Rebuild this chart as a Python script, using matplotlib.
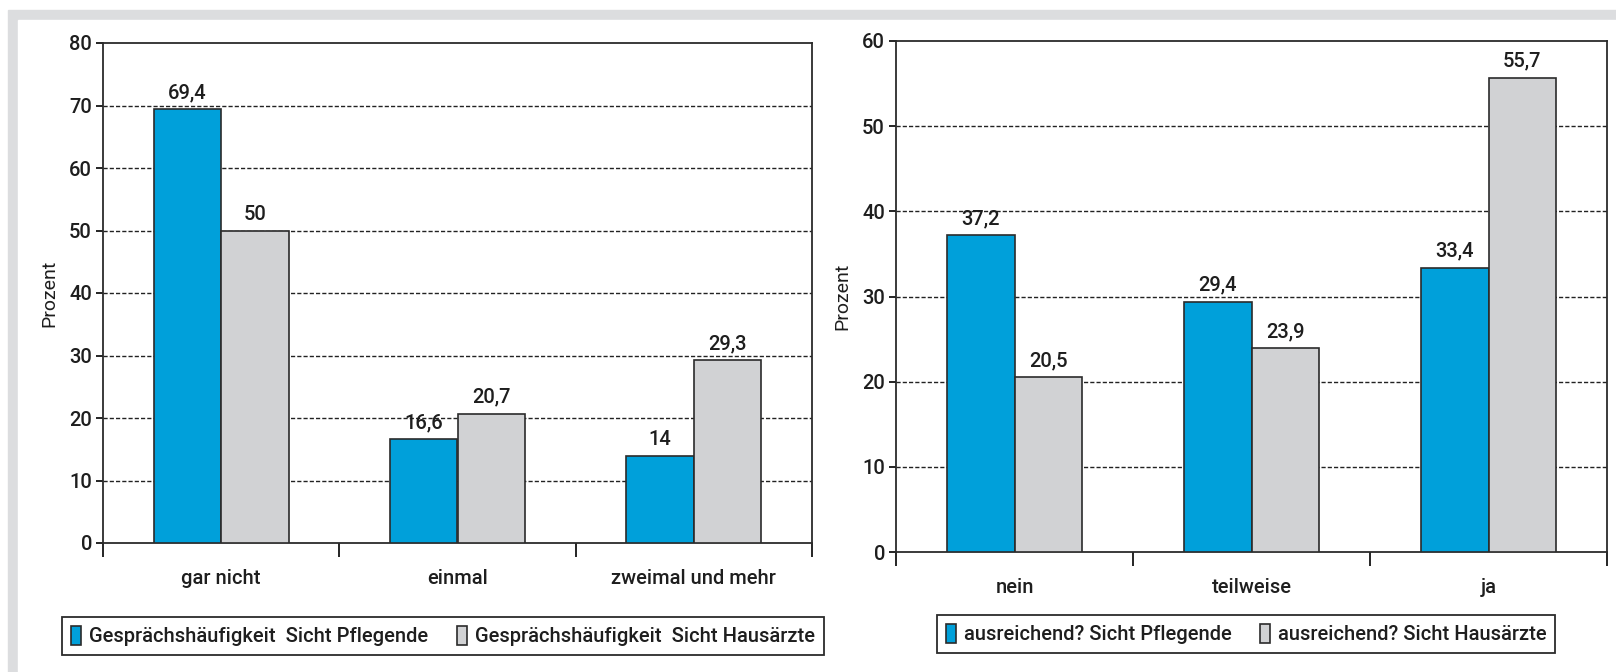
import numpy as np
import matplotlib.pyplot as plt
from matplotlib.patches import Rectangle

plt.rcParams['font.family'] = ['Roboto', 'DejaVu Sans']
plt.rcParams['font.weight'] = 'medium'

# left chart
cats_left = ["gar nicht", "einmal", "zweimal und mehr"]
pflege_left = [69.4, 16.6, 14]
arzt_left = [50, 20.7, 29.3]
labels_left = ["Gesprächshäufigkeit  Sicht Pflegende", "Gesprächshäufigkeit  Sicht Hausärzte"]

# right chart
cats_right = ["nein", "teilweise", "ja"]
pflege_right = [37.2, 29.4, 33.4]
arzt_right = [20.5, 23.9, 55.7]
labels_right = ["ausreichend? Sicht Pflegende", "ausreichend? Sicht Hausärzte"]

BLUE = "#00a0da"
GRAY = "#d1d2d4"
EDGE = "#2b2b2b"
TXT = "#1e1e1e"
W, H = 1616, 672
FS = 14.5


def fmt(v):
    s = f"{v:g}"
    return s.replace(".", ",")


def draw(ax, cats, a, b, ymax, labels, legend_center):
    x = np.arange(len(cats))
    w = 0.285
    bars_a = ax.bar(x - w / 2, a, w, color=BLUE, edgecolor=EDGE, linewidth=1.2,
                    label=labels[0], zorder=3)
    bars_b = ax.bar(x + w / 2, b, w, color=GRAY, edgecolor=EDGE, linewidth=1.2,
                    label=labels[1], zorder=3)
    for bars, vals in ((bars_a, a), (bars_b, b)):
        for r, v in zip(bars, vals):
            ax.annotate(fmt(v), (r.get_x() + r.get_width() / 2, v),
                        xytext=(0, 5), textcoords="offset points",
                        ha="center", va="bottom", fontsize=FS, color=TXT)
    ax.set_xlim(-0.5, len(cats) - 0.5)
    ax.set_ylim(0, ymax)
    ax.set_yticks(np.arange(0, ymax + 1, 10))
    for yv in np.arange(10, ymax, 10):
        ax.axhline(yv, color="#222", lw=1.0, ls=(0, (3, 1.5)), zorder=1)
    ax.set_xticks(x)
    ax.set_xticklabels(cats, fontsize=FS, color=TXT)
    ax.set_xticks(np.arange(-0.5, len(cats), 1), minor=True)
    ax.tick_params(axis="x", which="major", length=0, pad=19)
    ax.tick_params(axis="x", which="minor", length=10, width=1.2, direction="out")
    ax.tick_params(axis="y", length=5, width=1.2, labelsize=FS, pad=3, labelcolor=TXT)
    ax.set_ylabel("Prozent", fontsize=14, labelpad=8, color=TXT)
    for s in ax.spines.values():
        s.set_linewidth(1.3)
        s.set_color(EDGE)
    leg = ax.legend(loc="center", bbox_to_anchor=(legend_center[0] / W, 1 - legend_center[1] / H),
                    bbox_transform=ax.figure.transFigure, ncol=2, fontsize=FS,
                    handlelength=0.5, handleheight=1.1, handletextpad=0.4,
                    columnspacing=1.4, fancybox=False, framealpha=1,
                    borderpad=0.45, edgecolor=EDGE)
    leg.get_frame().set_linewidth(1.3)
    for t in leg.get_texts():
        t.set_color(TXT)


fig = plt.figure(figsize=(W / 100, H / 100), dpi=100)
# light gray frame around the figure
fig.patches.append(Rectangle((8 / W, 0), 1, 1 - 10 / H, transform=fig.transFigure,
                             color="#dcdddf", zorder=-10))
fig.patches.append(Rectangle((18 / W, 0), 1, 1 - 20 / H, transform=fig.transFigure,
                             color="white", zorder=-9))

ax1 = fig.add_axes([103 / W, 1 - 543 / H, (812 - 103) / W, (543 - 43) / H])
ax2 = fig.add_axes([896 / W, 1 - 552 / H, (1607 - 896) / W, (552 - 41) / H])

draw(ax1, cats_left, pflege_left, arzt_left, 80, labels_left, (443, 636))
draw(ax2, cats_right, pflege_right, arzt_right, 60, labels_right, (1246, 634))

fig.savefig("out.png", dpi=100)
